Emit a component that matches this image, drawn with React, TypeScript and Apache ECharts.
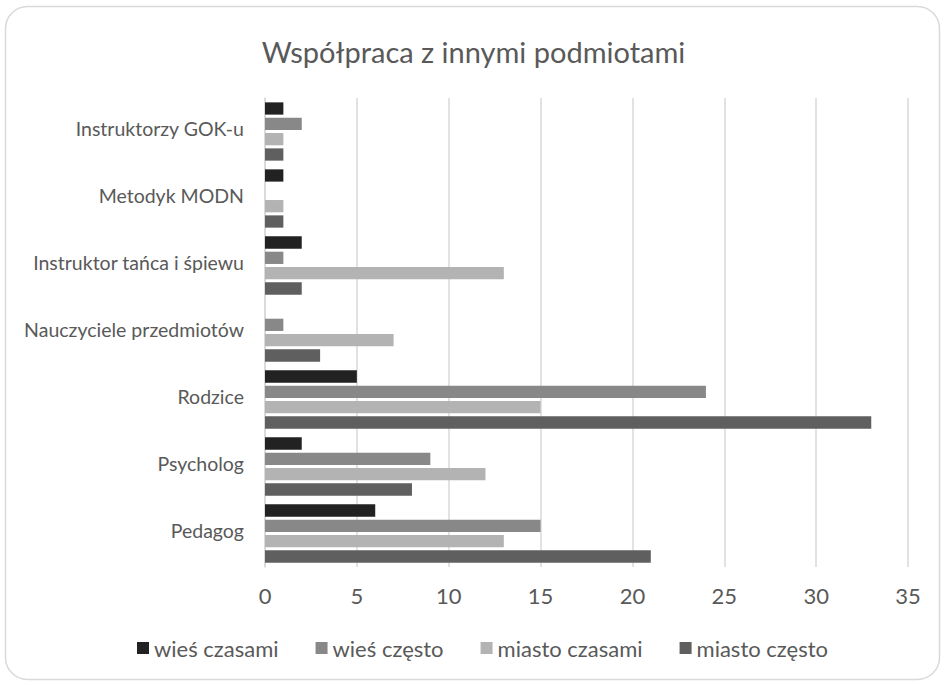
import React, { useEffect, useRef } from "react";
import * as echarts from "echarts";

const categories = [
  "Pedagog",
  "Psycholog",
  "Rodzice",
  "Nauczyciele przedmiotów",
  "Instruktor tańca i śpiewu",
  "Metodyk MODN",
  "Instruktorzy GOK-u",
];
const seriesNames = ["wieś czasami", "wieś często", "miasto czasami", "miasto często"];
const wiesCzasami = [6, 2, 5, 0, 2, 1, 1];
const wiesCzesto = [15, 9, 24, 1, 1, 0, 2];
const miastoCzasami = [13, 12, 15, 7, 13, 1, 1];
const miastoCzesto = [21, 8, 33, 3, 2, 1, 1];
const colors = ["#222222", "#888888", "#b3b3b3", "#5f5f5f"];
const xTicks = { min: 0, max: 35, interval: 5 };

export default function App() {
  const ref = useRef<HTMLDivElement>(null);
  useEffect(() => {
    if (!ref.current) return;
    const chart = echarts.init(ref.current, null, { renderer: "svg" });
    const font = "Lato";
    const data = [wiesCzasami, wiesCzesto, miastoCzasami, miastoCzesto];
    chart.setOption({
      animation: false,
      backgroundColor: "#ffffff",
      title: {
        text: "Współpraca z innymi podmiotami",
        left: "center",
        top: 32,
        textStyle: { fontFamily: font, fontSize: 29, fontWeight: "normal", color: "#595959" },
      },
      graphic: [
        {
          type: "rect",
          shape: { x: 5.5, y: 6.5, width: 934, height: 673, r: 22 },
          style: { fill: "none", stroke: "#d9d9d9", lineWidth: 1.5 },
          silent: true,
        },
      ],
      legend: {
        top: 632,
        left: 132,
        itemWidth: 12,
        itemHeight: 12,
        itemGap: 37,
        icon: "rect",
        textStyle: { fontFamily: font, fontSize: 22, color: "#595959" },
        data: seriesNames,
      },
      grid: { left: 265, right: 39, top: 98, bottom: 118, containLabel: false },
      xAxis: {
        type: "value",
        min: xTicks.min,
        max: xTicks.max,
        interval: xTicks.interval,
        axisLine: { show: false },
        axisTick: { show: false },
        splitLine: { show: true, lineStyle: { color: "#d9d9d9", width: 1.5 } },
        axisLabel: { fontFamily: font, fontSize: 22, color: "#595959", margin: 17 },
      },
      yAxis: {
        type: "category",
        data: categories,
        axisLine: { show: true, lineStyle: { color: "#d9d9d9", width: 1.5 } },
        axisTick: { show: false },
        axisLabel: {
          margin: 21,
          formatter: "{a|{value}}",
          rich: {
            a: { fontFamily: font, fontSize: 19.5, color: "#595959", padding: [0, 0, 7, 0] },
          },
        },
      },
      series: seriesNames.map((name, i) => ({
        name,
        type: "bar",
        data: data[i],
        barGap: "25%",
        barCategoryGap: "13%",
        itemStyle: { color: colors[i] },
      })),
    });
    return () => chart.dispose();
  }, []);
  return <div ref={ref} style={{ width: 947, height: 685, position: "absolute", left: 0, top: 0 }} />;
}
